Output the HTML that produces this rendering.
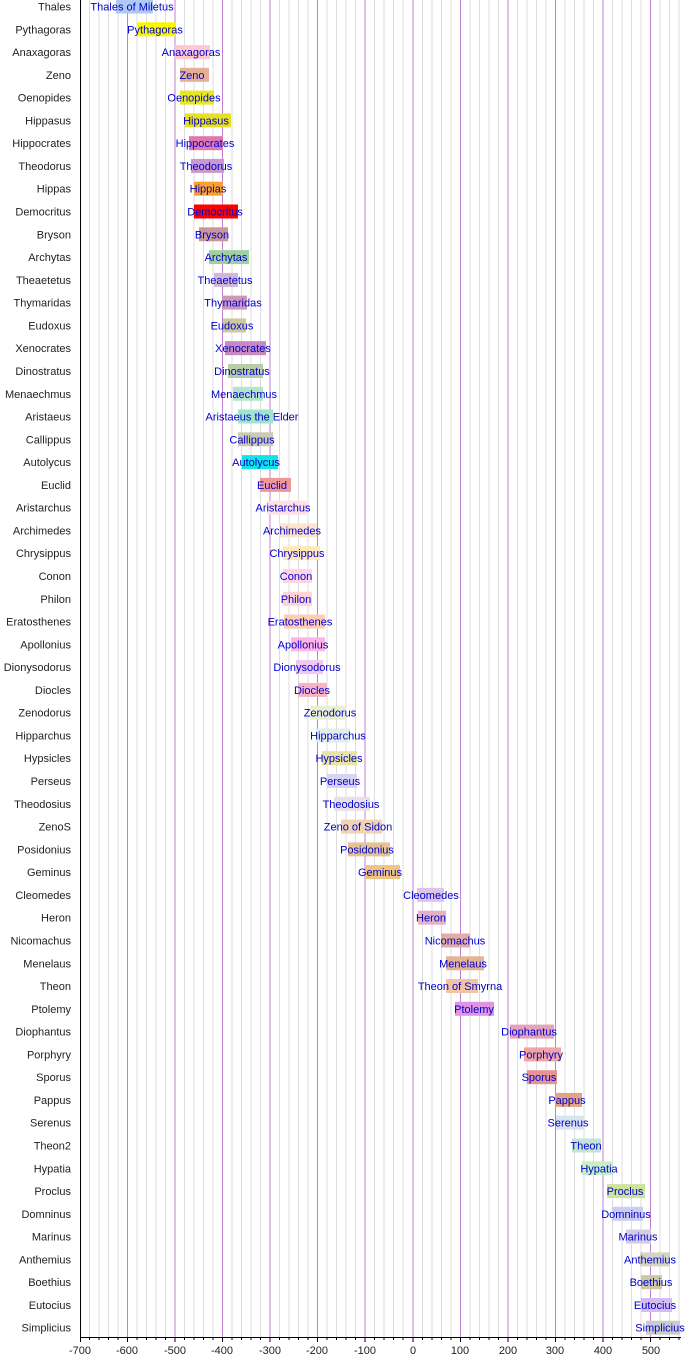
<!DOCTYPE html>
<html><head><meta charset="utf-8"><style>
html,body{margin:0;padding:0;background:#fff;}
svg{display:block;font-family:"Liberation Sans",sans-serif;}
.l{font-size:11px;fill:#222;text-anchor:end;}
.b{font-size:11px;fill:#0000cc;text-anchor:middle;}
.t{font-size:11px;fill:#222;text-anchor:middle;}
</style></head><body>
<svg width="700" height="1364" viewBox="0 0 700 1364">
<g stroke="#dddddd" stroke-width="1">
<line x1="89.5" y1="0" x2="89.5" y2="1337"/><line x1="99" y1="0" x2="99" y2="1337"/><line x1="108.5" y1="0" x2="108.5" y2="1337"/><line x1="118" y1="0" x2="118" y2="1337"/>
<line x1="137" y1="0" x2="137" y2="1337"/><line x1="146.5" y1="0" x2="146.5" y2="1337"/><line x1="156" y1="0" x2="156" y2="1337"/><line x1="165.5" y1="0" x2="165.5" y2="1337"/>
<line x1="184.5" y1="0" x2="184.5" y2="1337"/><line x1="194" y1="0" x2="194" y2="1337"/><line x1="203.5" y1="0" x2="203.5" y2="1337"/><line x1="213" y1="0" x2="213" y2="1337"/>
<line x1="232" y1="0" x2="232" y2="1337"/><line x1="241.5" y1="0" x2="241.5" y2="1337"/><line x1="251" y1="0" x2="251" y2="1337"/><line x1="260.5" y1="0" x2="260.5" y2="1337"/>
<line x1="279.5" y1="0" x2="279.5" y2="1337"/><line x1="289" y1="0" x2="289" y2="1337"/><line x1="298.5" y1="0" x2="298.5" y2="1337"/><line x1="308" y1="0" x2="308" y2="1337"/>
<line x1="327" y1="0" x2="327" y2="1337"/><line x1="336.5" y1="0" x2="336.5" y2="1337"/><line x1="346" y1="0" x2="346" y2="1337"/><line x1="355.5" y1="0" x2="355.5" y2="1337"/>
<line x1="374.5" y1="0" x2="374.5" y2="1337"/><line x1="384" y1="0" x2="384" y2="1337"/><line x1="393.5" y1="0" x2="393.5" y2="1337"/><line x1="403" y1="0" x2="403" y2="1337"/>
<line x1="422.5" y1="0" x2="422.5" y2="1337"/><line x1="432" y1="0" x2="432" y2="1337"/><line x1="441.5" y1="0" x2="441.5" y2="1337"/><line x1="451" y1="0" x2="451" y2="1337"/>
<line x1="470" y1="0" x2="470" y2="1337"/><line x1="479.5" y1="0" x2="479.5" y2="1337"/><line x1="489" y1="0" x2="489" y2="1337"/><line x1="498.5" y1="0" x2="498.5" y2="1337"/>
<line x1="517.5" y1="0" x2="517.5" y2="1337"/><line x1="527" y1="0" x2="527" y2="1337"/><line x1="536.5" y1="0" x2="536.5" y2="1337"/><line x1="546" y1="0" x2="546" y2="1337"/>
<line x1="565" y1="0" x2="565" y2="1337"/><line x1="574.5" y1="0" x2="574.5" y2="1337"/><line x1="584" y1="0" x2="584" y2="1337"/><line x1="593.5" y1="0" x2="593.5" y2="1337"/>
<line x1="612.5" y1="0" x2="612.5" y2="1337"/><line x1="622" y1="0" x2="622" y2="1337"/><line x1="631.5" y1="0" x2="631.5" y2="1337"/><line x1="641" y1="0" x2="641" y2="1337"/>
<line x1="660" y1="0" x2="660" y2="1337"/><line x1="669.5" y1="0" x2="669.5" y2="1337"/><line x1="679" y1="0" x2="679" y2="1337"/>
</g>
<g stroke="#c080d0" stroke-width="1">
<line x1="127.5" y1="0" x2="127.5" y2="1337"/><line x1="175" y1="0" x2="175" y2="1337"/><line x1="222.5" y1="0" x2="222.5" y2="1337"/><line x1="270" y1="0" x2="270" y2="1337"/><line x1="317.5" y1="0" x2="317.5" y2="1337"/><line x1="365" y1="0" x2="365" y2="1337"/><line x1="413" y1="0" x2="413" y2="1337"/><line x1="460.5" y1="0" x2="460.5" y2="1337"/><line x1="508" y1="0" x2="508" y2="1337"/><line x1="555.5" y1="0" x2="555.5" y2="1337"/><line x1="603" y1="0" x2="603" y2="1337"/><line x1="650.5" y1="0" x2="650.5" y2="1337"/>
</g>
<g>
<g transform="translate(0,6.5)"><text class="l" x="71" y="4">Thales</text><rect x="116" y="-7" width="37" height="14" fill="#b0c8f4"/><text class="b" x="132" y="4">Thales of Miletus</text></g>
<g transform="translate(0,29.3)"><text class="l" x="71" y="4">Pythagoras</text><rect x="137" y="-7" width="39" height="14" fill="#f8f800"/><text class="b" x="155" y="4">Pythagoras</text></g>
<g transform="translate(0,52.1)"><text class="l" x="71" y="4">Anaxagoras</text><rect x="175" y="-7" width="35" height="14" fill="#ffc8d0"/><text class="b" x="191" y="4">Anaxagoras</text></g>
<g transform="translate(0,74.8)"><text class="l" x="71" y="4">Zeno</text><rect x="180" y="-7" width="29" height="14" fill="#e4b098"/><text class="b" x="192" y="4">Zeno</text></g>
<g transform="translate(0,97.6)"><text class="l" x="71" y="4">Oenopides</text><rect x="180" y="-7" width="34" height="14" fill="#e8e820"/><text class="b" x="194" y="4">Oenopides</text></g>
<g transform="translate(0,120.4)"><text class="l" x="71" y="4">Hippasus</text><rect x="185" y="-7" width="46" height="14" fill="#e8e020"/><text class="b" x="206" y="4">Hippasus</text></g>
<g transform="translate(0,143.2)"><text class="l" x="71" y="4">Hippocrates</text><rect x="189" y="-7" width="34" height="14" fill="#e078b0"/><text class="b" x="205" y="4">Hippocrates</text></g>
<g transform="translate(0,165.9)"><text class="l" x="71" y="4">Theodorus</text><rect x="191" y="-7" width="33" height="14" fill="#c898d0"/><text class="b" x="206" y="4">Theodorus</text></g>
<g transform="translate(0,188.7)"><text class="l" x="71" y="4">Hippas</text><rect x="194" y="-7" width="29" height="14" fill="#f8a030"/><text class="b" x="208" y="4">Hippias</text></g>
<g transform="translate(0,211.5)"><text class="l" x="71" y="4">Democritus</text><rect x="194" y="-7" width="44" height="14" fill="#ff0000"/><text class="b" x="215" y="4">Democritus</text></g>
<g transform="translate(0,234.3)"><text class="l" x="71" y="4">Bryson</text><rect x="199" y="-7" width="29" height="14" fill="#c89898"/><text class="b" x="212" y="4">Bryson</text></g>
<g transform="translate(0,257.1)"><text class="l" x="71" y="4">Archytas</text><rect x="209" y="-7" width="40" height="14" fill="#a0d0a0"/><text class="b" x="226" y="4">Archytas</text></g>
<g transform="translate(0,279.9)"><text class="l" x="71" y="4">Theaetetus</text><rect x="214" y="-7" width="24" height="14" fill="#d0b8d8"/><text class="b" x="225" y="4">Theaetetus</text></g>
<g transform="translate(0,302.6)"><text class="l" x="71" y="4">Thymaridas</text><rect x="222" y="-7" width="25" height="14" fill="#d098b8"/><text class="b" x="233" y="4">Thymaridas</text></g>
<g transform="translate(0,325.4)"><text class="l" x="71" y="4">Eudoxus</text><rect x="223" y="-7" width="23" height="14" fill="#ccc8a0"/><text class="b" x="232" y="4">Eudoxus</text></g>
<g transform="translate(0,348.2)"><text class="l" x="71" y="4">Xenocrates</text><rect x="225" y="-7" width="41" height="14" fill="#c888c0"/><text class="b" x="243" y="4">Xenocrates</text></g>
<g transform="translate(0,371.0)"><text class="l" x="71" y="4">Dinostratus</text><rect x="228" y="-7" width="35" height="14" fill="#b8cca8"/><text class="b" x="242" y="4">Dinostratus</text></g>
<g transform="translate(0,393.8)"><text class="l" x="71" y="4">Menaechmus</text><rect x="233" y="-7" width="30" height="14" fill="#b4e4cc"/><text class="b" x="244" y="4">Menaechmus</text></g>
<g transform="translate(0,416.5)"><text class="l" x="71" y="4">Aristaeus</text><rect x="238" y="-7" width="35" height="14" fill="#a0e4cc"/><text class="b" x="252" y="4">Aristaeus the Elder</text></g>
<g transform="translate(0,439.3)"><text class="l" x="71" y="4">Callippus</text><rect x="238" y="-7" width="35" height="14" fill="#ccccb4"/><text class="b" x="252" y="4">Callippus</text></g>
<g transform="translate(0,462.1)"><text class="l" x="71" y="4">Autolycus</text><rect x="242" y="-7" width="36" height="14" fill="#10e4e4"/><text class="b" x="256" y="4">Autolycus</text></g>
<g transform="translate(0,484.9)"><text class="l" x="71" y="4">Euclid</text><rect x="260" y="-7" width="31" height="14" fill="#f09898"/><text class="b" x="272" y="4">Euclid</text></g>
<g transform="translate(0,507.7)"><text class="l" x="71" y="4">Aristarchus</text><rect x="267" y="-7" width="40" height="14" fill="#ffe0e4"/><text class="b" x="283" y="4">Aristarchus</text></g>
<g transform="translate(0,530.4)"><text class="l" x="71" y="4">Archimedes</text><rect x="279" y="-7" width="38" height="14" fill="#ffe4cc"/><text class="b" x="292" y="4">Archimedes</text></g>
<g transform="translate(0,553.2)"><text class="l" x="71" y="4">Chrysippus</text><rect x="283" y="-7" width="37" height="14" fill="#ffe8bc"/><text class="b" x="297" y="4">Chrysippus</text></g>
<g transform="translate(0,576.0)"><text class="l" x="71" y="4">Conon</text><rect x="283" y="-7" width="29" height="14" fill="#ffd4e4"/><text class="b" x="296" y="4">Conon</text></g>
<g transform="translate(0,598.8)"><text class="l" x="71" y="4">Philon</text><rect x="283" y="-7" width="29" height="14" fill="#ffd4d4"/><text class="b" x="296" y="4">Philon</text></g>
<g transform="translate(0,621.6)"><text class="l" x="71" y="4">Eratosthenes</text><rect x="284" y="-7" width="41" height="14" fill="#ffccb4"/><text class="b" x="300" y="4">Eratosthenes</text></g>
<g transform="translate(0,644.3)"><text class="l" x="71" y="4">Apollonius</text><rect x="291" y="-7" width="34" height="14" fill="#ffb4e4"/><text class="b" x="303" y="4">Apollonius</text></g>
<g transform="translate(0,667.1)"><text class="l" x="71" y="4">Dionysodorus</text><rect x="296" y="-7" width="27" height="14" fill="#f0c8f0"/><text class="b" x="307" y="4">Dionysodorus</text></g>
<g transform="translate(0,689.9)"><text class="l" x="71" y="4">Diocles</text><rect x="298" y="-7" width="29" height="14" fill="#f8b4c4"/><text class="b" x="312" y="4">Diocles</text></g>
<g transform="translate(0,712.7)"><text class="l" x="71" y="4">Zenodorus</text><rect x="310" y="-7" width="35" height="14" fill="#e8f0d0"/><text class="b" x="330" y="4">Zenodorus</text></g>
<g transform="translate(0,735.5)"><text class="l" x="71" y="4">Hipparchus</text><rect x="316" y="-7" width="34" height="14" fill="#e0f0e8"/><text class="b" x="338" y="4">Hipparchus</text></g>
<g transform="translate(0,758.2)"><text class="l" x="71" y="4">Hypsicles</text><rect x="322" y="-7" width="35" height="14" fill="#e8e4a4"/><text class="b" x="339" y="4">Hypsicles</text></g>
<g transform="translate(0,781.0)"><text class="l" x="71" y="4">Perseus</text><rect x="327" y="-7" width="30" height="14" fill="#d8d4f4"/><text class="b" x="340" y="4">Perseus</text></g>
<g transform="translate(0,803.8)"><text class="l" x="71" y="4">Theodosius</text><rect x="334" y="-7" width="36" height="14" fill="#e8e0e8"/><text class="b" x="351" y="4">Theodosius</text></g>
<g transform="translate(0,826.6)"><text class="l" x="71" y="4">ZenoS</text><rect x="341" y="-7" width="41" height="14" fill="#f0d4b4"/><text class="b" x="358" y="4">Zeno of Sidon</text></g>
<g transform="translate(0,849.4)"><text class="l" x="71" y="4">Posidonius</text><rect x="348" y="-7" width="42" height="14" fill="#e4c494"/><text class="b" x="367" y="4">Posidonius</text></g>
<g transform="translate(0,872.1)"><text class="l" x="71" y="4">Geminus</text><rect x="365" y="-7" width="35" height="14" fill="#ecc484"/><text class="b" x="380" y="4">Geminus</text></g>
<g transform="translate(0,894.9)"><text class="l" x="71" y="4">Cleomedes</text><rect x="417" y="-7" width="27" height="14" fill="#dcc4ec"/><text class="b" x="431" y="4">Cleomedes</text></g>
<g transform="translate(0,917.7)"><text class="l" x="71" y="4">Heron</text><rect x="418" y="-7" width="28" height="14" fill="#e4b4c4"/><text class="b" x="431" y="4">Heron</text></g>
<g transform="translate(0,940.5)"><text class="l" x="71" y="4">Nicomachus</text><rect x="441" y="-7" width="29" height="14" fill="#e4aca4"/><text class="b" x="455" y="4">Nicomachus</text></g>
<g transform="translate(0,963.3)"><text class="l" x="71" y="4">Menelaus</text><rect x="446" y="-7" width="38" height="14" fill="#e4b494"/><text class="b" x="463" y="4">Menelaus</text></g>
<g transform="translate(0,986.0)"><text class="l" x="71" y="4">Theon</text><rect x="446" y="-7" width="32" height="14" fill="#f0c4a4"/><text class="b" x="460" y="4">Theon of Smyrna</text></g>
<g transform="translate(0,1008.8)"><text class="l" x="71" y="4">Ptolemy</text><rect x="455" y="-7" width="39" height="14" fill="#e094e4"/><text class="b" x="474" y="4">Ptolemy</text></g>
<g transform="translate(0,1031.6)"><text class="l" x="71" y="4">Diophantus</text><rect x="510" y="-7" width="44" height="14" fill="#e4a4bc"/><text class="b" x="529" y="4">Diophantus</text></g>
<g transform="translate(0,1054.4)"><text class="l" x="71" y="4">Porphyry</text><rect x="524" y="-7" width="37" height="14" fill="#f0a4a8"/><text class="b" x="541" y="4">Porphyry</text></g>
<g transform="translate(0,1077.2)"><text class="l" x="71" y="4">Sporus</text><rect x="527" y="-7" width="30" height="14" fill="#e49494"/><text class="b" x="539" y="4">Sporus</text></g>
<g transform="translate(0,1099.9)"><text class="l" x="71" y="4">Pappus</text><rect x="555" y="-7" width="27" height="14" fill="#e4a484"/><text class="b" x="567" y="4">Pappus</text></g>
<g transform="translate(0,1122.7)"><text class="l" x="71" y="4">Serenus</text><rect x="556" y="-7" width="28" height="14" fill="#d8e4f0"/><text class="b" x="568" y="4">Serenus</text></g>
<g transform="translate(0,1145.5)"><text class="l" x="71" y="4">Theon2</text><rect x="572" y="-7" width="29" height="14" fill="#c4e4d4"/><text class="b" x="586" y="4">Theon</text></g>
<g transform="translate(0,1168.3)"><text class="l" x="71" y="4">Hypatia</text><rect x="582" y="-7" width="31" height="14" fill="#c8f0c4"/><text class="b" x="599" y="4">Hypatia</text></g>
<g transform="translate(0,1191.1)"><text class="l" x="71" y="4">Proclus</text><rect x="607" y="-7" width="38" height="14" fill="#cce49c"/><text class="b" x="625" y="4">Proclus</text></g>
<g transform="translate(0,1213.8)"><text class="l" x="71" y="4">Domninus</text><rect x="612" y="-7" width="31" height="14" fill="#ccccf0"/><text class="b" x="626" y="4">Domninus</text></g>
<g transform="translate(0,1236.6)"><text class="l" x="71" y="4">Marinus</text><rect x="626" y="-7" width="25" height="14" fill="#d4cce4"/><text class="b" x="638" y="4">Marinus</text></g>
<g transform="translate(0,1259.4)"><text class="l" x="71" y="4">Anthemius</text><rect x="640" y="-7" width="30" height="14" fill="#d4d4c4"/><text class="b" x="650" y="4">Anthemius</text></g>
<g transform="translate(0,1282.2)"><text class="l" x="71" y="4">Boethius</text><rect x="641" y="-7" width="21" height="14" fill="#ccc8a4"/><text class="b" x="651" y="4">Boethius</text></g>
<g transform="translate(0,1305.0)"><text class="l" x="71" y="4">Eutocius</text><rect x="641" y="-7" width="31" height="14" fill="#d4bcf0"/><text class="b" x="655" y="4">Eutocius</text></g>
<g transform="translate(0,1327.7)"><text class="l" x="71" y="4">Simplicius</text><rect x="646" y="-7" width="34" height="14" fill="#cccccc"/><text class="b" x="660" y="4">Simplicius</text></g>
</g>
<line x1="80.5" y1="0" x2="80.5" y2="1338" stroke="#000" stroke-width="1"/>
<line x1="80" y1="1337.5" x2="681" y2="1337.5" stroke="#000" stroke-width="1"/>
<g stroke="#000" stroke-width="1">
<line x1="89.5" y1="1337" x2="89.5" y2="1340"/><line x1="99" y1="1337" x2="99" y2="1340"/><line x1="108.5" y1="1337" x2="108.5" y2="1340"/><line x1="118" y1="1337" x2="118" y2="1340"/>
<line x1="137" y1="1337" x2="137" y2="1340"/><line x1="146.5" y1="1337" x2="146.5" y2="1340"/><line x1="156" y1="1337" x2="156" y2="1340"/><line x1="165.5" y1="1337" x2="165.5" y2="1340"/>
<line x1="184.5" y1="1337" x2="184.5" y2="1340"/><line x1="194" y1="1337" x2="194" y2="1340"/><line x1="203.5" y1="1337" x2="203.5" y2="1340"/><line x1="213" y1="1337" x2="213" y2="1340"/>
<line x1="232" y1="1337" x2="232" y2="1340"/><line x1="241.5" y1="1337" x2="241.5" y2="1340"/><line x1="251" y1="1337" x2="251" y2="1340"/><line x1="260.5" y1="1337" x2="260.5" y2="1340"/>
<line x1="279.5" y1="1337" x2="279.5" y2="1340"/><line x1="289" y1="1337" x2="289" y2="1340"/><line x1="298.5" y1="1337" x2="298.5" y2="1340"/><line x1="308" y1="1337" x2="308" y2="1340"/>
<line x1="327" y1="1337" x2="327" y2="1340"/><line x1="336.5" y1="1337" x2="336.5" y2="1340"/><line x1="346" y1="1337" x2="346" y2="1340"/><line x1="355.5" y1="1337" x2="355.5" y2="1340"/>
<line x1="374.5" y1="1337" x2="374.5" y2="1340"/><line x1="384" y1="1337" x2="384" y2="1340"/><line x1="393.5" y1="1337" x2="393.5" y2="1340"/><line x1="403" y1="1337" x2="403" y2="1340"/>
<line x1="422.5" y1="1337" x2="422.5" y2="1340"/><line x1="432" y1="1337" x2="432" y2="1340"/><line x1="441.5" y1="1337" x2="441.5" y2="1340"/><line x1="451" y1="1337" x2="451" y2="1340"/>
<line x1="470" y1="1337" x2="470" y2="1340"/><line x1="479.5" y1="1337" x2="479.5" y2="1340"/><line x1="489" y1="1337" x2="489" y2="1340"/><line x1="498.5" y1="1337" x2="498.5" y2="1340"/>
<line x1="517.5" y1="1337" x2="517.5" y2="1340"/><line x1="527" y1="1337" x2="527" y2="1340"/><line x1="536.5" y1="1337" x2="536.5" y2="1340"/><line x1="546" y1="1337" x2="546" y2="1340"/>
<line x1="565" y1="1337" x2="565" y2="1340"/><line x1="574.5" y1="1337" x2="574.5" y2="1340"/><line x1="584" y1="1337" x2="584" y2="1340"/><line x1="593.5" y1="1337" x2="593.5" y2="1340"/>
<line x1="612.5" y1="1337" x2="612.5" y2="1340"/><line x1="622" y1="1337" x2="622" y2="1340"/><line x1="631.5" y1="1337" x2="631.5" y2="1340"/><line x1="641" y1="1337" x2="641" y2="1340"/>
<line x1="660" y1="1337" x2="660" y2="1340"/><line x1="669.5" y1="1337" x2="669.5" y2="1340"/><line x1="679" y1="1337" x2="679" y2="1340"/>
<line x1="80.5" y1="1337" x2="80.5" y2="1342"/><line x1="127.5" y1="1337" x2="127.5" y2="1342"/><line x1="175" y1="1337" x2="175" y2="1342"/><line x1="222.5" y1="1337" x2="222.5" y2="1342"/><line x1="270" y1="1337" x2="270" y2="1342"/><line x1="317.5" y1="1337" x2="317.5" y2="1342"/><line x1="365" y1="1337" x2="365" y2="1342"/><line x1="413" y1="1337" x2="413" y2="1342"/><line x1="460.5" y1="1337" x2="460.5" y2="1342"/><line x1="508" y1="1337" x2="508" y2="1342"/><line x1="555.5" y1="1337" x2="555.5" y2="1342"/><line x1="603" y1="1337" x2="603" y2="1342"/><line x1="650.5" y1="1337" x2="650.5" y2="1342"/>
</g>
<g>
<text class="t" x="80" y="1354">-700</text><text class="t" x="127" y="1354">-600</text><text class="t" x="175" y="1354">-500</text><text class="t" x="222" y="1354">-400</text><text class="t" x="270" y="1354">-300</text><text class="t" x="317" y="1354">-200</text><text class="t" x="365" y="1354">-100</text><text class="t" x="413" y="1354">0</text><text class="t" x="460" y="1354">100</text><text class="t" x="508" y="1354">200</text><text class="t" x="555" y="1354">300</text><text class="t" x="603" y="1354">400</text><text class="t" x="651" y="1354">500</text>
</g>
</svg>
</body></html>
